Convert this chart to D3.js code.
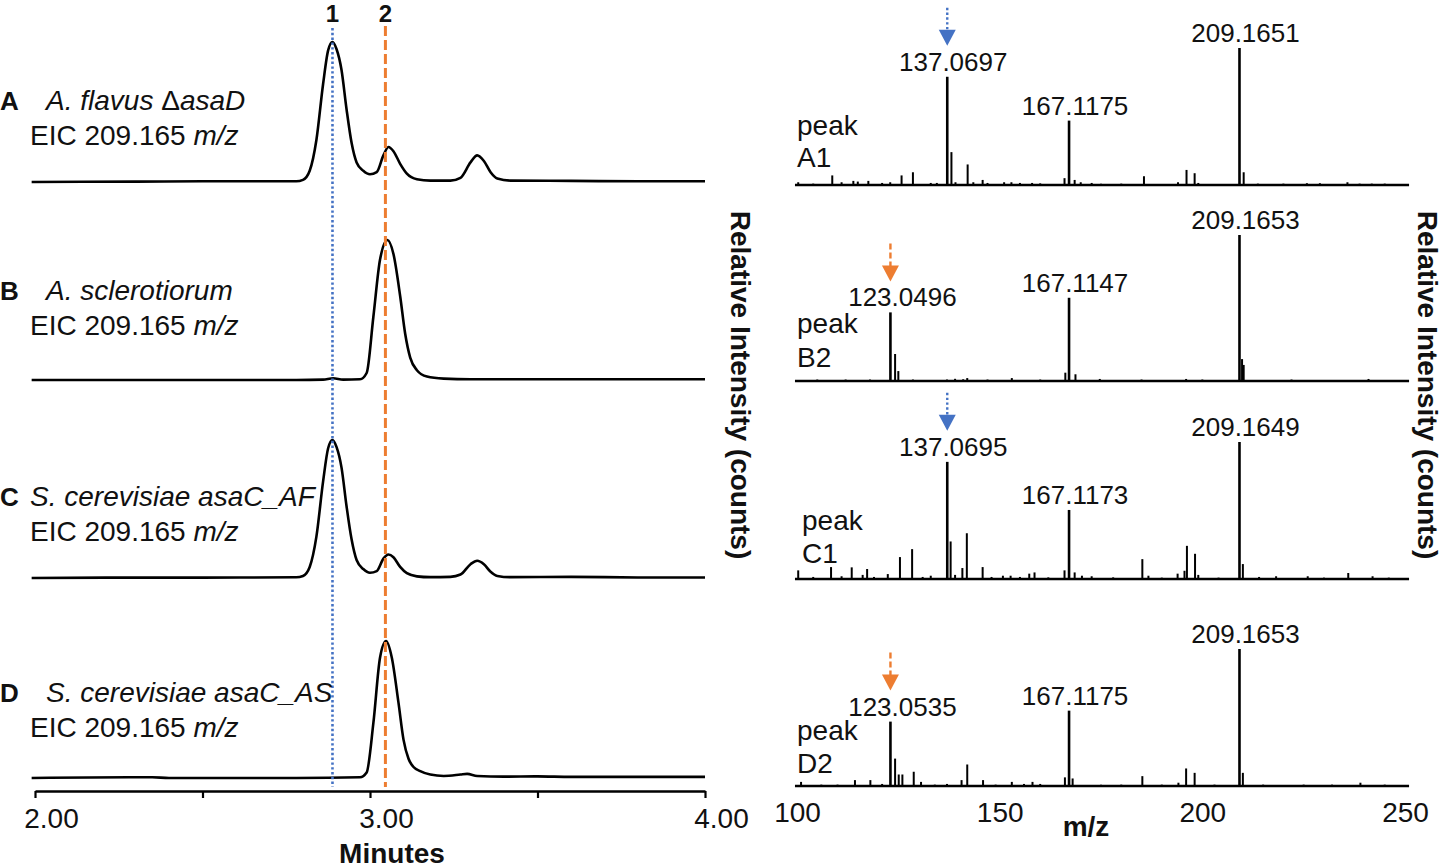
<!DOCTYPE html>
<html>
<head>
<meta charset="utf-8">
<script src="https://cdn.jsdelivr.net/npm/d3@7"></script>
<style>
    body { margin: 0; background: #fff; }
    svg { display: block; }
    text { font-family: "Liberation Sans", Arial, sans-serif; fill: #111; }
</style>
</head>
<body>
<svg id="chart" width="1442" height="868"></svg>
<script>
// ---- data: extracted ion chromatograms (minutes, relative intensity %) ----
var timeTicks = [2.0, 2.5, 3.0, 3.5, 4.0];
var mzTicks = [100, 150, 200, 250];
var peakTimes = [2.888, 3.046];   // compound 1, compound 2

var traceA = [[1.99,0],[2.30,0.3],[2.50,0.5],[2.78,0.5],[2.80,1.5],[2.82,8],[2.84,30],[2.86,70],[2.875,94],[2.888,100],
    [2.90,95],[2.915,80],[2.93,52],[2.945,28],[2.96,14],[2.98,8],[3.00,5.5],[3.02,7],[3.04,19],[3.055,25],[3.07,22],
    [3.09,13],[3.11,6],[3.14,2],[3.18,1],[3.24,1],[3.27,3],[3.30,14],[3.32,19],[3.34,15],[3.36,7],[3.38,2.5],
    [3.42,1],[3.60,0.8],[3.80,0.5],[4.00,0.5]];
var traceB = [[1.99,0],[2.50,0],[2.78,0],[2.86,0.3],[2.89,1.2],[2.92,0.3],[2.97,0.5],[2.99,5],[3.01,45],[3.03,86],
    [3.052,100],[3.07,90],[3.09,60],[3.105,33],[3.12,16],[3.14,7],[3.17,2.5],[3.22,1],[3.30,0.5],[3.60,0.5],[4.00,0.5]];
var traceC = [[1.99,0],[2.30,0.3],[2.50,0.3],[2.78,0.5],[2.80,1.5],[2.82,8],[2.84,30],[2.86,70],[2.875,94],[2.888,100],
    [2.90,95],[2.915,80],[2.93,52],[2.945,28],[2.96,13],[2.98,6.5],[3.00,3.8],[3.02,5],[3.04,14],[3.055,17],[3.07,15],
    [3.09,8],[3.11,3.5],[3.14,1.2],[3.18,0.6],[3.24,0.8],[3.27,2.5],[3.30,10],[3.32,12.5],[3.34,10],[3.36,4.5],
    [3.38,1.5],[3.42,0.6],[3.60,0.8],[3.80,0.4],[4.00,0.4]];
var traceD = [[1.99,0],[2.28,0.5],[2.35,0.5],[2.40,0],[2.78,0],[2.97,0.5],[2.99,4],[3.01,40],[3.03,88],[3.048,100],
    [3.065,88],[3.085,55],[3.10,28],[3.115,14],[3.13,8],[3.15,5],[3.18,2.5],[3.22,1.5],[3.27,2.5],[3.29,3],[3.32,1.5],
    [3.40,1],[3.50,1.2],[3.60,0.8],[4.00,0.8]];

var traceLabels = ["A", "B", "C", "D"];
var traceNames = ["A. flavus ", "A. sclerotiorum", "S. cerevisiae asaC_AF", "S. cerevisiae asaC_AS"];
var eicText = "EIC 209.165 ";

// ---- data: MS/MS spectra (m/z, relative intensity %) ----
var mainA = [[137.0697,79],[167.1175,47],[209.1651,100]];
var minorA = [[100.3,2],[104,1],[108.7,7],[111,2],[113.9,3],[115,2.5],[117.6,3],[121,1.5],[123,2],[125.8,7],[128.6,9.3],
    [133,1.5],[134.5,1.5],[138.1,24],[139.1,2],[142.1,15],[143.5,2],[145.8,3.7],[147,1.5],[151.1,2],[152.9,2],[155,1.5],
    [158,1.5],[160,1.2],[166.0,5],[168.5,3.7],[170,2],[172.7,1.5],[175,1],[180,1],[185.6,6.4],[194,2],[196.1,11],
    [198.1,8.6],[199,1.5],[210.2,9.3],[213.7,1],[220,1],[225.8,1.3],[229,1.3],[235.8,2],[238.8,1],[241.8,1],[245,1]];

var mainB = [[123.0496,47],[167.1147,57],[209.1653,100]];
var minorB = [[105,1],[112,1],[118,1],[124.2,18.5],[125.0,6.8],[128.6,1],[137,1],[139,1.5],[141,1.2],[142,2],[147,1],
    [153,2],[160,1],[166.2,5.7],[168.7,4.6],[174.7,1.4],[185,1],[196,1.4],[200,1],[209.8,15],[210.2,11],[222,1],[241,1.4]];

var mainC = [[137.0695,85.5],[167.1173,50.4],[209.1649,100]];
var minorC = [[100.3,6.3],[104,1.5],[108.4,8.7],[111,2],[113.5,8.5],[116.2,3],[117.3,7.3],[119,1.5],[122.4,3.6],
    [125.4,16],[128.4,21.8],[131,1.5],[133,2.4],[137.9,27.4],[139,3],[140.8,8],[141.9,33.4],[145.8,8.7],[148,1.5],
    [150.8,2.4],[152.7,2.4],[155,1.5],[157.3,3.9],[158.6,4.8],[162,1.2],[166.0,6.3],[168.5,4.8],[170.3,2.4],[172.7,2],
    [178,1.2],[185.2,14.5],[186.7,2.4],[190,1],[193.9,3.9],[195.6,6],[196.2,24.2],[198.2,18.4],[199,3],[204,1],
    [210,10.9],[214,1.5],[218.2,2],[226,2],[230,1],[236,4.4],[242,2],[246,1]];

var mainD = [[123.0535,47],[167.1175,55],[209.1653,100]];
var minorD = [[101,3],[106,1],[110,1],[114.3,4.3],[118.1,4.3],[121,1.5],[124.2,20],[125.1,8.4],[126.0,8.4],[128.8,10.4],
    [130.6,3],[134,1],[137,1.5],[140.6,4.3],[142.0,15.7],[145.9,4.3],[149,1],[153,3],[156,1.5],[158.1,3],[160,1.5],
    [166.1,6.3],[168.0,5.5],[175,1],[180,1],[185.2,7.2],[190,1],[194.1,2.4],[196.0,12.8],[198.1,9.6],[203,1],
    [210.0,9.6],[215,1],[225,1],[232,1],[239,2.4],[245,1]];

var spectrumNames = ["A1", "B2", "C1", "D2"];
var arrowMz = [137.0697, 123.0496, 137.0695, 123.0535];   // diagnostic fragment marked in each spectrum
var arrowKind = [0, 1, 0, 1];                                // 0 = compound 1 (blue), 1 = compound 2 (orange)

// ---- layout ----
var blue = "#4472C4", orange = "#ED7D31";
var svg = d3.select("#chart");

// left panel: chromatograms
var xTime = d3.scaleLinear().domain([2, 4]).range([35, 705]);
var leftBase = [182, 380, 578, 778];   // baseline of every trace
var leftTop = [42, 240, 440, 641];     // y of 100 %
var axisY = 791;

var line = d3.line()
    .x(d => xTime(d[0]))
    .curve(d3.curveMonotoneX);

[traceA, traceB, traceC, traceD].forEach(function (trace, i) {
    var y = d3.scaleLinear().domain([0, 100]).range([leftBase[i], leftTop[i]]);
    svg.append("path")
        .datum(trace)
        .attr("fill", "none")
        .attr("stroke", "#000")
        .attr("stroke-width", 2.6)
        .attr("stroke-linejoin", "round")
        .attr("d", line.y(d => y(d[1])));
});

// reference lines for compound 1 and 2
svg.append("line")
    .attr("x1", xTime(peakTimes[0])).attr("x2", xTime(peakTimes[0]))
    .attr("y1", 28).attr("y2", axisY - 4)
    .attr("stroke", blue).attr("stroke-width", 2.6)
    .attr("stroke-dasharray", "2.4,2.4");
svg.append("line")
    .attr("x1", xTime(peakTimes[1])).attr("x2", xTime(peakTimes[1]))
    .attr("y1", 26).attr("y2", axisY - 4)
    .attr("stroke", orange).attr("stroke-width", 3)
    .attr("stroke-dasharray", "10,4");

svg.selectAll(".cmpd")
    .data(["1", "2"])
    .join("text")
    .attr("x", (d, i) => xTime(peakTimes[i]))
    .attr("y", 22)
    .attr("text-anchor", "middle")
    .attr("font-size", 24)
    .attr("font-weight", "bold")
    .text(d => d);

// trace labels
var labelY = [110, 300, 506, 702];
traceLabels.forEach(function (lab, i) {
    svg.append("text")
        .attr("x", 0).attr("y", labelY[i])
        .attr("font-size", 26).attr("font-weight", "bold")
        .text(lab);

    var name = svg.append("text")
        .attr("x", i === 2 ? 30 : 46).attr("y", labelY[i])
        .attr("font-size", 28)
        .attr("font-style", "italic")
        .text(traceNames[i]);
    if (i === 0) {
        name.append("tspan").attr("font-style", "normal").text("\u0394");
        name.append("tspan").text("asaD");
    }

    var eic = svg.append("text")
        .attr("x", 30).attr("y", labelY[i] + 35)
        .attr("font-size", 28)
        .text(eicText);
    eic.append("tspan").attr("font-style", "italic").text("m/z");
});

// time axis
var tAxis = svg.append("g")
    .attr("transform", `translate(0,${axisY})`)
    .call(d3.axisBottom(xTime)
        .tickValues(timeTicks)
        .tickSize(7)
        .tickSizeOuter(0)
        .tickPadding(10)
        .tickFormat(d => Number.isInteger(d) ? d3.format(".2f")(d) : ""));
tAxis.select(".domain").attr("stroke", "#000").attr("stroke-width", 2.6);
tAxis.selectAll(".tick line").attr("stroke", "#000").attr("stroke-width", 2.2);
tAxis.selectAll(".tick text")
    .attr("font-size", 28)
    .attr("font-family", "Liberation Sans, Arial, sans-serif")
    .attr("fill", "#111")
    .attr("dx", 16);

svg.append("text")
    .attr("x", 392).attr("y", 863)
    .attr("text-anchor", "middle")
    .attr("font-size", 28).attr("font-weight", "bold")
    .text("Minutes");

// y titles (rotated, reading downwards)
[731, 1418].forEach(function (xx) {
    svg.append("text")
        .attr("transform", `translate(${xx},385) rotate(90)`)
        .attr("text-anchor", "middle")
        .attr("font-size", 28).attr("font-weight", "bold")
        .text("Relative Intensity (counts)");
});

// right panel: spectra
var xMz = d3.scaleLinear().domain([100, 250]).range([797, 1405]);
var rightBase = [185, 381, 579, 786];
var rightTop = [48, 235, 442, 649];
var peakLabelY = [[135, 167], [333, 367], [530, 563], [740, 773]];
var fmt = d3.format(".4f");

[[mainA, minorA], [mainB, minorB], [mainC, minorC], [mainD, minorD]].forEach(function (spec, i) {
    var y = d3.scaleLinear().domain([0, 100]).range([rightBase[i], rightTop[i]]);
    var g = svg.append("g");

    // baseline
    g.append("line")
        .attr("x1", xMz(99.5)).attr("x2", xMz(251))
        .attr("y1", y(0)).attr("y2", y(0))
        .attr("stroke", "#000").attr("stroke-width", 2.6);

    g.selectAll(".minor")
        .data(spec[1])
        .join("line")
        .attr("x1", d => xMz(d[0])).attr("x2", d => xMz(d[0]))
        .attr("y1", y(0)).attr("y2", d => y(d[1]))
        .attr("stroke", "#000").attr("stroke-width", 2);

    g.selectAll(".main")
        .data(spec[0])
        .join("line")
        .attr("x1", d => xMz(d[0])).attr("x2", d => xMz(d[0]))
        .attr("y1", y(0)).attr("y2", d => y(d[1]))
        .attr("stroke", "#000").attr("stroke-width", 2.6);

    g.selectAll(".lab")
        .data(spec[0])
        .join("text")
        .attr("x", d => xMz(d[0]) + (d[0] < 130 ? 12 : 6))
        .attr("y", d => y(d[1]) - 6)
        .attr("text-anchor", "middle")
        .attr("font-size", 26)
        .text(d => fmt(d[0]));

    // peak name
    g.append("text")
        .attr("x", i === 2 ? 802 : 797).attr("y", peakLabelY[i][0])
        .attr("font-size", 28).text("peak");
    g.append("text")
        .attr("x", i === 2 ? 802 : 797).attr("y", peakLabelY[i][1])
        .attr("font-size", 28).text(spectrumNames[i]);

    // arrow pointing at the diagnostic fragment
    var ax = xMz(arrowMz[i]);
    var hit = spec[0].find(d => d[0] === arrowMz[i]);
    var tip = y(hit[1]) - 31;
    var col = arrowKind[i] === 0 ? blue : orange;
    g.append("line")
        .attr("x1", ax).attr("x2", ax)
        .attr("y1", tip - 38).attr("y2", tip - 15)
        .attr("stroke", col)
        .attr("stroke-width", 2.4)
        .attr("stroke-dasharray", arrowKind[i] === 0 ? "2.4,2.4" : "6,3");
    g.append("path")
        .attr("d", d3.line()([[ax - 8.5, tip - 16], [ax + 8.5, tip - 16], [ax, tip]]) + "Z")
        .attr("fill", col);
});

// m/z axis (labels only, the bottom spectrum baseline acts as axis line)
var mAxis = svg.append("g")
    .attr("transform", `translate(0,${rightBase[3]})`)
    .call(d3.axisBottom(xMz).tickValues(mzTicks).tickSize(0).tickPadding(16));
mAxis.select(".domain").remove();
mAxis.selectAll(".tick text")
    .attr("font-size", 28)
    .attr("font-family", "Liberation Sans, Arial, sans-serif")
    .attr("fill", "#111");

svg.append("text")
    .attr("x", 1086).attr("y", 836)
    .attr("text-anchor", "middle")
    .attr("font-size", 28).attr("font-weight", "bold")
    .text("m/z");
</script>
</body>
</html>
